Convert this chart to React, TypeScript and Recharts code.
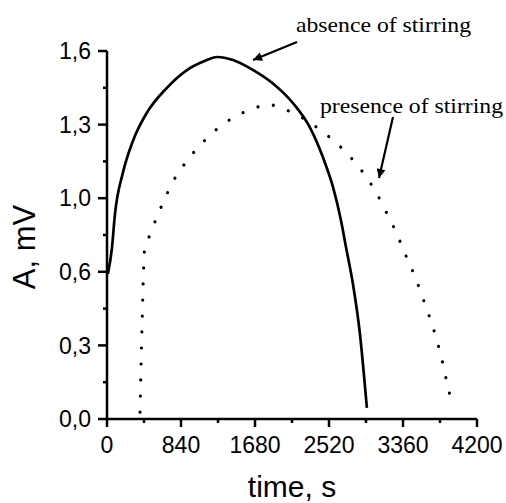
import React from "react";
import { LineChart, Line, XAxis, YAxis, Label } from "recharts";

// Solid curve: absence of stirring
const solidT = [10, 55, 90, 180, 295, 450, 680, 900, 1100, 1250, 1430, 1660, 1880, 2110, 2300, 2450, 2565, 2655, 2715, 2790, 2870, 2950];
const solidV = [0.63, 0.74, 0.89, 1.07, 1.21, 1.33, 1.44, 1.515, 1.555, 1.574, 1.561, 1.517, 1.46, 1.374, 1.27, 1.139, 1.009, 0.865, 0.743, 0.591, 0.374, 0.048];

// Dotted curve: presence of stirring
const dottedT = [375, 397, 428, 499, 564, 647, 734, 848, 988, 1158, 1339, 1532, 1714, 1850, 1904, 2089, 2452, 2641, 2812, 2951, 3065, 3164, 3254, 3334, 3409, 3493, 3561, 3629, 3693, 3746, 3795, 3837, 3879, 3920];
const dottedV = [0.03, 0.4, 0.74, 0.809, 0.878, 0.948, 1.022, 1.091, 1.161, 1.23, 1.287, 1.33, 1.357, 1.37, 1.361, 1.335, 1.248, 1.187, 1.117, 1.048, 0.978, 0.904, 0.835, 0.765, 0.696, 0.622, 0.552, 0.478, 0.409, 0.339, 0.27, 0.196, 0.126, 0.057];

const xMajorTicks = [0, 840, 1680, 2520, 3360, 4200];
const xTickLabels = ["0", "840", "1680", "2520", "3360", "4200"];
const xMinorTicks = [420, 1260, 2100, 2940, 3780];

const yMajorTicks = [0, 0.32, 0.64, 0.96, 1.28, 1.6];
const yTickLabels = ["0,0", "0,3", "0,6", "1,0", "1,3", "1,6"];
const yMinorTicks = [0.16, 0.48, 0.8, 1.12, 1.44];

const xTitle = "time, s";
const yTitle = "A, mV";
const noteAbsence = "absence of stirring";
const notePresence = "presence of stirring";

const solidData = solidT.map((t, i) => ({ t, v: solidV[i] }));
const dottedData = dottedT.map((t, i) => ({ t, v: dottedV[i] }));
const xTicks = [...xMajorTicks, ...xMinorTicks].sort((a, b) => a - b);
const yTicks = [...yMajorTicks, ...yMinorTicks].sort((a, b) => a - b);

const SANS = "'Liberation Sans', Arial, sans-serif";
const SERIF = "'Liberation Serif', 'Times New Roman', serif";

const XTick = (props: any) => {
  const { x, y, payload } = props;
  const i = xMajorTicks.indexOf(payload.value);
  const major = i >= 0;
  return (
    <g>
      <line x1={x} x2={x} y1={y} y2={y + (major ? 8 : 4)} stroke="#000" strokeWidth={2.5} />
      {major && (
        <text x={x} y={y + 18} dy="0.71em" textAnchor="middle" fontSize={23} fontFamily={SANS} fill="#000">
          {xTickLabels[i]}
        </text>
      )}
    </g>
  );
};

const YTick = (props: any) => {
  const { x, y, payload } = props;
  const i = yMajorTicks.indexOf(payload.value);
  const major = i >= 0;
  return (
    <g>
      <line x1={x - (major ? 9 : 4)} x2={x} y1={y} y2={y} stroke="#000" strokeWidth={2.5} />
      {major && (
        <text x={x - 16} y={y} dy="0.36em" textAnchor="end" fontSize={23} fontFamily={SANS} fill="#000">
          {yTickLabels[i]}
        </text>
      )}
    </g>
  );
};

const renderXTitle = (props: any) => {
  const vb = props.viewBox || { x: 107, y: 419, width: 370, height: 84 };
  return (
    <text x={vb.x + vb.width / 2} y={vb.y + 78} textAnchor="middle" fontSize={30} fontFamily={SANS} fill="#000">
      {xTitle}
    </text>
  );
};

const renderYTitle = (props: any) => {
  const vb = props.viewBox || { x: 0, y: 51, width: 107, height: 368 };
  const cx = vb.x + 24;
  const cy = vb.y + vb.height / 2 + 12;
  return (
    <text
      x={cx}
      y={cy}
      transform={`rotate(-90, ${cx}, ${cy})`}
      textAnchor="middle"
      dominantBaseline="central"
      fontSize={31}
      fontFamily={SANS}
      fill="#000"
    >
      {yTitle}
    </text>
  );
};

export default function App() {
  return (
    <div style={{ position: "absolute", left: 0, top: 0, width: 506, height: 503, background: "#fff" }}>
      <LineChart width={506} height={503} margin={{ top: 51, right: 29, bottom: 0, left: 0 }}>
        <XAxis
          dataKey="t"
          type="number"
          domain={[0, 4200]}
          ticks={xTicks}
          interval={0}
          height={84}
          tickSize={0}
          tickMargin={0}
          tickLine={false}
          tick={<XTick />}
          axisLine={{ stroke: "#000", strokeWidth: 2.5 }}
          allowDuplicatedCategory={false}
        >
          <Label content={renderXTitle} />
        </XAxis>
        <YAxis
          type="number"
          domain={[0, 1.6]}
          ticks={yTicks}
          interval={0}
          width={107}
          tickSize={0}
          tickMargin={0}
          tickLine={false}
          tick={<YTick />}
          axisLine={{ stroke: "#000", strokeWidth: 2.5 }}
        >
          <Label content={renderYTitle} />
        </YAxis>
        <Line
          data={solidData}
          dataKey="v"
          type="monotone"
          stroke="#000"
          strokeWidth={2.7}
          dot={false}
          activeDot={false}
          isAnimationActive={false}
        />
        <Line
          data={dottedData}
          dataKey="v"
          type="monotone"
          stroke="#000"
          strokeWidth={3.2}
          strokeDasharray="0.01 16"
          strokeLinecap="round"
          dot={false}
          activeDot={false}
          isAnimationActive={false}
        />
      </LineChart>
      <svg
        width={506}
        height={503}
        style={{ position: "absolute", left: 0, top: 0, pointerEvents: "none" }}
      >
        <defs>
          <marker
            id="arrowHead"
            viewBox="0 0 10 10"
            refX="10"
            refY="5"
            markerWidth="13"
            markerHeight="9"
            markerUnits="userSpaceOnUse"
            orient="auto"
          >
            <path d="M0,0 L10,5 L0,10 z" fill="#000" />
          </marker>
        </defs>
        <text x={296} y={32} fontSize={22} fontFamily={SERIF} textLength={175} lengthAdjust="spacingAndGlyphs" fill="#000">
          {noteAbsence}
        </text>
        <line x1={297} y1={42} x2={253} y2={60} stroke="#000" strokeWidth={2.2} markerEnd="url(#arrowHead)" />
        <text x={320} y={113} fontSize={22} fontFamily={SERIF} textLength={183} lengthAdjust="spacingAndGlyphs" fill="#000">
          {notePresence}
        </text>
        <line x1={393} y1={117} x2={379} y2={178} stroke="#000" strokeWidth={2.2} markerEnd="url(#arrowHead)" />
      </svg>
    </div>
  );
}
